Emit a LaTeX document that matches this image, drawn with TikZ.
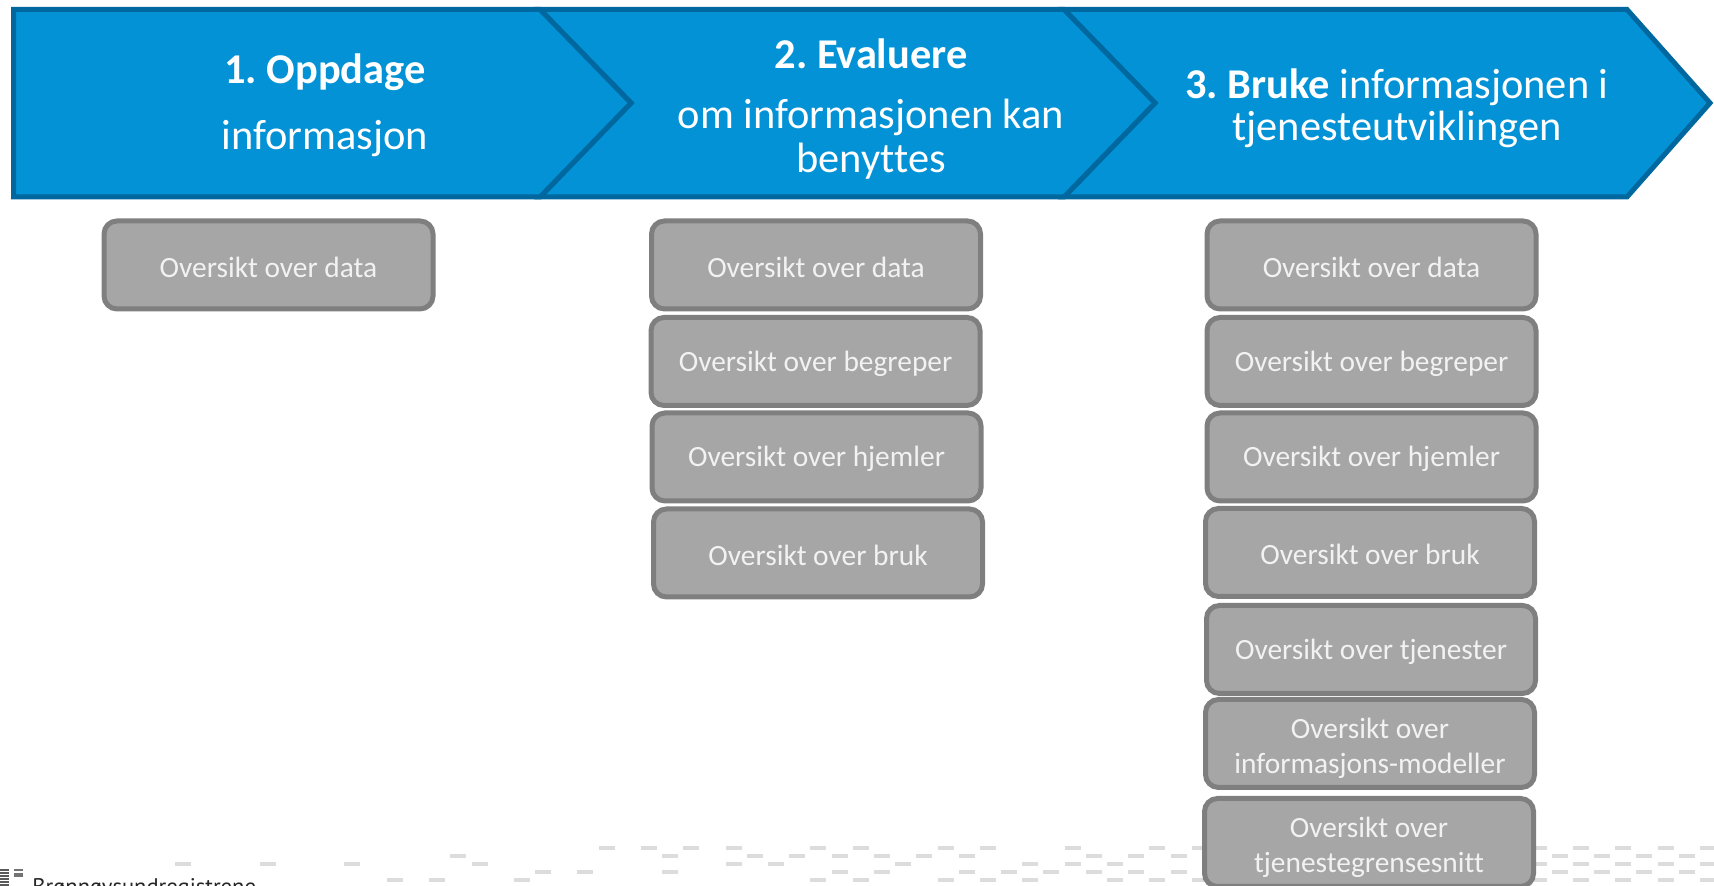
\documentclass[tikz,border=0pt]{standalone}
\usepackage{fontspec}
\setmainfont[Ligatures=NoCommon]{Carlito}
\newfontfamily\logofont{PT Sans}
\usepackage{xcolor}
\usetikzlibrary{positioning}
\frenchspacing

\definecolor{stepfill}{HTML}{0392D6}
\definecolor{stepline}{HTML}{00689E}
\definecolor{boxfill}{HTML}{A6A6A6}
\definecolor{boxline}{HTML}{7F7F7F}
\definecolor{dashgray}{HTML}{DCDCDC}

\tikzset{
    chevron/.style={draw=stepline, fill=stepfill, line width=2.5pt, line join=miter},
    steplabel/.style={text=white, align=center, font=\fontsize{21.2}{21}\selectfont},
    infobox/.style={draw=boxline, fill=boxfill, line width=2.5pt, rounded corners=6.5pt,
        minimum width=164.5pt, minimum height=44pt, inner sep=0pt, align=center,
        text=white!95!black, font=\fontsize{14.7}{17.5}\selectfont,
        execute at begin node={\rule{0pt}{12.5pt}}},
    patch/.style={fill=dashgray, minimum width=8pt, minimum height=2.3pt, inner sep=0pt}
}

\begin{document}
\begin{tikzpicture}[x=0.5pt,y=-0.5pt]
    \clip (0,0) rectangle (1714,886);

    % footer pattern
    \foreach \row/\list in {
        848/{28,30,32,34,38,40,44,46,50,54,56,72,74,76,78,80},
        856/{21,31,35,37,39,41,43,45,51,53,55,73,75,77,79},
        864/{8,12,16,22,34,36,42,48,50,52,72,74,76,78,80},
        872/{25,27,31,39,41,45,47,49,51,53,55,73,75,77,79},
        880/{18,20,24,38,40,44,46,48,52,54,56,72,74,76,78,80},
        888/{15,23,25,29,33,35,37,41,45,49,53,73,75,77,79}} {
        \foreach \n in \list {
            \node[patch] (p\row-\n) at ({13.6+21.18*\n},\row) {};
        }
    }

    % logo
    \foreach \y in {870,873,876,879,882,885} {
        \node[fill=black!65, minimum width=4.5pt, minimum height=0.9pt, inner sep=0pt] (bar\y) at (4,\y) {};
    }
    \node[fill=black!55, minimum width=4.5pt, minimum height=1pt, inner sep=0pt] (logoa) at (18,870.5) {};
    \node[fill=black!55, minimum width=4.5pt, minimum height=2pt, inner sep=0pt] (logob) at (18,875) {};
    \node[anchor=base west, inner sep=0pt, text=black!85, font=\logofont\fontsize{11.3}{11.3}\selectfont] (brreg) at (32,895) {Brønnøysundregistrene};

    % steps, last one first
    \draw[chevron] (1064,9.5) -- (1627,9.5) -- (1710,103) -- (1627,197) -- (1064,197) -- (1155,103) -- cycle;
    \draw[chevron] (540,9.5) -- (1064,9.5) -- (1155,103) -- (1064,197) -- (540,197) -- (631,103) -- cycle;
    \draw[chevron] (13.5,9.5) -- (540,9.5) -- (631,103) -- (540,197) -- (13.5,197) -- cycle;

    \node[steplabel] (oppdage) at (325,105) {\textbf{1. Oppdage}\\[11.8pt]informasjon};
    \node[steplabel] (evaluere) at (871,109) {\textbf{2. Evaluere}\\[9pt]om informasjonen kan\\[1.4pt]benyttes};
    \node[steplabel] (bruke) at (1397,108.5) {\textbf{3. Bruke} informasjonen i\\tjenesteutviklingen};

    \node[infobox] (a1) at (268.5,265) {Oversikt over data};

    \node[infobox] (b1) at (816,265) {Oversikt over data};
    \node[infobox] (b2) at (815.5,361.5) {Oversikt over begreper};
    \node[infobox] (b3) at (816.5,457) {Oversikt over hjemler};
    \node[infobox] (b4) at (818,553) {Oversikt over bruk};

    \node[infobox] (c1) at (1371.5,265) {Oversikt over data};
    \node[infobox] (c2) at (1371.5,361.5) {Oversikt over begreper};
    \node[infobox] (c3) at (1371.5,457) {Oversikt over hjemler};
    \node[infobox] (c4) at (1370,552.5) {Oversikt over bruk};
    \node[infobox] (c5) at (1371,649.5) {Oversikt over tjenester};
    % two lines sit a little low in their boxes
    \node[infobox] (c6) at (1370,743.5) {\\[-2.7pt]Oversikt over\\informasjons-modeller};
    \node[infobox] (c7) at (1369,842.5) {\\[-2.7pt]Oversikt over\\tjenestegrensesnitt};
\end{tikzpicture}
\end{document}
